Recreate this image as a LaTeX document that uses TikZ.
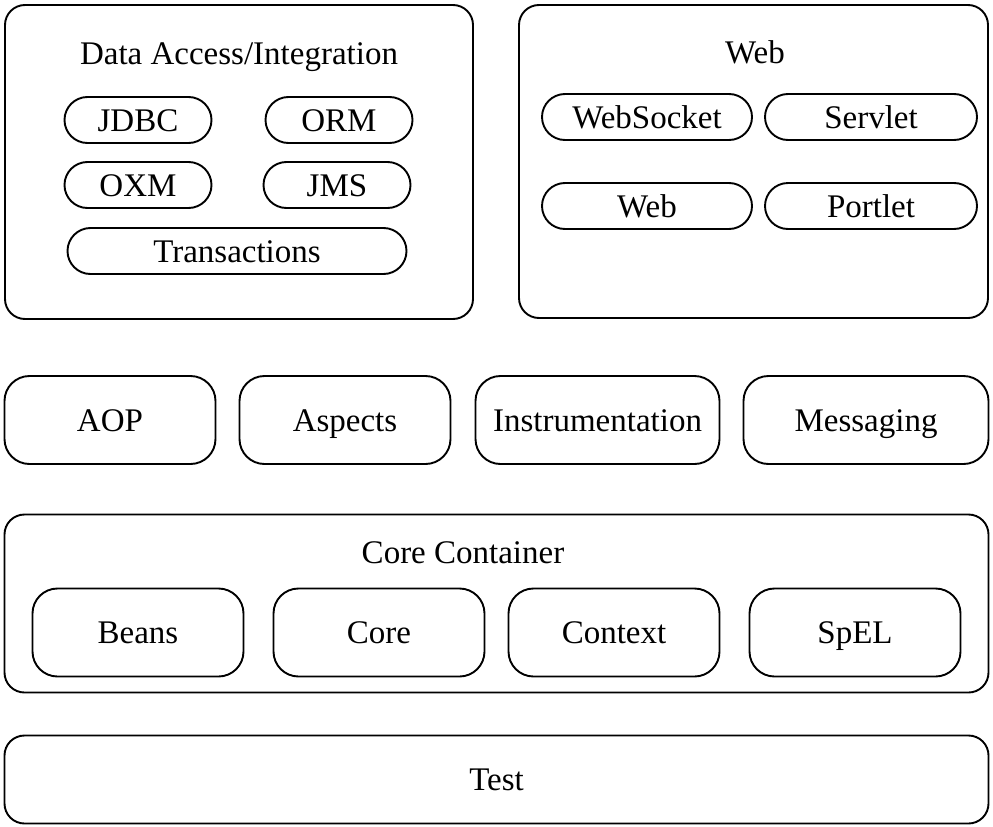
\documentclass[tikz,border=0pt]{standalone}
\usepackage{fontspec}
\setmainfont{Liberation Serif}
\usepackage{tikz}
\begin{document}
\begin{tikzpicture}[line cap=round,line join=round,x=1pt,y=-1pt,
  every node/.style={font=\fontsize{33}{36}\selectfont,inner sep=0pt,text height=22pt,text depth=0pt},
  group/.style={draw,line width=1.9pt,rounded corners=20pt},
  pill/.style={draw,line width=1.9pt,rounded corners=23pt,minimum height=46pt},
  module/.style={draw,line width=1.9pt,rounded corners=25pt,minimum height=88pt}]
\useasboundingbox (0,0) rectangle (993,827);
\node[group,minimum width=468pt,minimum height=314pt] (dataacc) at (239,162) {};
\node (dataacctitle) at (239,53) {Data Access/Integration};
\node[pill,minimum width=147pt] (jdbc) at (138,120) {JDBC};
\node[pill,minimum width=147pt] (orm) at (339,120) {ORM};
\node[pill,minimum width=147pt] (oxm) at (138,185) {OXM};
\node[pill,minimum width=147pt] (jms) at (337,185) {JMS};
\node[pill,minimum width=339pt] (trans) at (237,251) {Transactions};
\node[group,minimum width=469pt,minimum height=313pt] (web) at (753.5,161.5) {};
\node (webtitle) at (755,52) {Web};
\node[pill,minimum width=210pt] (websocket) at (647,117) {WebSocket};
\node[pill,minimum width=212pt] (servlet) at (871,117) {Servlet};
\node[pill,minimum width=210pt] (webmod) at (647,206) {Web};
\node[pill,minimum width=212pt] (portlet) at (871,206) {Portlet};
\node[module,minimum width=211pt] (aop) at (110,420) {AOP};
\node[module,minimum width=211pt] (aspects) at (345,420) {Aspects};
\node[module,minimum width=244pt] (instr) at (597.5,420) {Instrumentation};
\node[module,minimum width=245pt] (msg) at (866,420) {Messaging};
\node[group,minimum width=984pt,minimum height=178pt] (corecont) at (496.5,603.5) {};
\node (coretitle) at (463,552) {Core Container};
\node[module,minimum width=211pt] (beans) at (138,632.5) {Beans};
\node[module,minimum width=211pt] (core) at (379,632.5) {Core};
\node[module,minimum width=211pt] (context) at (614,632.5) {Context};
\node[module,minimum width=211pt] (spel) at (855,632.5) {SpEL};
\node[group,minimum width=984pt,minimum height=88pt] (test) at (496.5,779.5) {Test};
\end{tikzpicture}
\end{document}
